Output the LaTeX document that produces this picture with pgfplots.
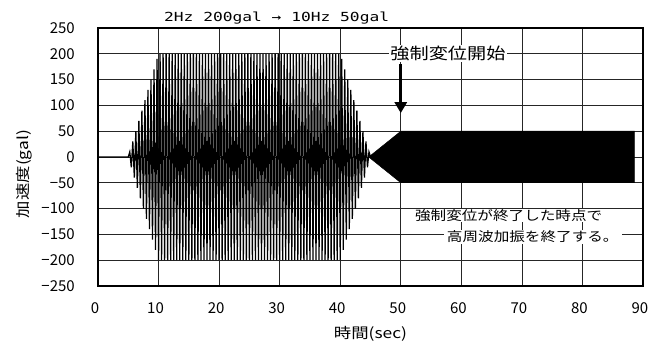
\documentclass[border=0pt]{standalone}
\usepackage{fontspec}
\setmainfont{Noto Sans CJK JP}
\newfontfamily\tickfont{Noto Sans CJK JP}
\newfontfamily\cjkwide{Noto Sans CJK JP}[FakeStretch=1.2]
\newfontfamily\titlefont{DejaVu Sans Mono}[FakeStretch=1.3]
\usepackage{pgfplots}
\pgfplotsset{compat=1.18}
\usetikzlibrary{arrows.meta}
\begin{document}
\begin{tikzpicture}
\begin{axis}[
  width=545bp, height=258bp, scale only axis,
  xmin=0, xmax=90, ymin=-250, ymax=250,
  xtick={0,10,20,30,40,50,60,70,80,90},
  xticklabels={0,10,20,30,40,50,60,70,80,90},
  ytick={-250,-200,-150,-100,-50,0,50,100,150,200,250},
  yticklabels={−250,−200,−150,−100,−50,0,50,100,150,200,250},
  major tick length=0pt,
  grid=major,
  major grid style={black!85, line width=0.6bp},
  axis line style={black, line width=1.2bp},
  tick label style={font=\tickfont\fontsize{15bp}{15bp}\selectfont},
  yticklabel style={anchor=east, inner sep=0pt, xshift=-23bp},
  xticklabel style={anchor=north, inner sep=0pt, yshift=-16bp, xshift=-3bp},
  clip=false,
]
\addplot[black, line width=1.25bp] coordinates {
(0,0)(5,0)(5.25,10)(5.5,-20)(5.75,30)(6,-40)(6.25,50)(6.5,-60)(6.75,70)(7,-80)
(7.25,90)(7.5,-100)(7.75,110)(8,-120)(8.25,130)(8.5,-140)(8.75,150)(9,-160)
(9.25,170)(9.5,-180)(9.75,190)(10,-200)
(10.25,200)(10.5,-200)(10.75,200)(11,-200)
(11.25,200)(11.5,-200)(11.75,200)(12,-200)
(12.25,200)(12.5,-200)(12.75,200)(13,-200)
(13.25,200)(13.5,-200)(13.75,200)(14,-200)
(14.25,200)(14.5,-200)(14.75,200)(15,-200)
(15.25,200)(15.5,-200)(15.75,200)(16,-200)
(16.25,200)(16.5,-200)(16.75,200)(17,-200)
(17.25,200)(17.5,-200)(17.75,200)(18,-200)
(18.25,200)(18.5,-200)(18.75,200)(19,-200)
(19.25,200)(19.5,-200)(19.75,200)(20,-200)
(20.25,200)(20.5,-200)(20.75,200)(21,-200)
(21.25,200)(21.5,-200)(21.75,200)(22,-200)
(22.25,200)(22.5,-200)(22.75,200)(23,-200)
(23.25,200)(23.5,-200)(23.75,200)(24,-200)
(24.25,200)(24.5,-200)(24.75,200)(25,-200)
(25.25,200)(25.5,-200)(25.75,200)(26,-200)
(26.25,200)(26.5,-200)(26.75,200)(27,-200)
(27.25,200)(27.5,-200)(27.75,200)(28,-200)
(28.25,200)(28.5,-200)(28.75,200)(29,-200)
(29.25,200)(29.5,-200)(29.75,200)(30,-200)
(30.25,200)(30.5,-200)(30.75,200)(31,-200)
(31.25,200)(31.5,-200)(31.75,200)(32,-200)
(32.25,200)(32.5,-200)(32.75,200)(33,-200)
(33.25,200)(33.5,-200)(33.75,200)(34,-200)
(34.25,200)(34.5,-200)(34.75,200)(35,-200)
(35.25,200)(35.5,-200)(35.75,200)(36,-200)
(36.25,200)(36.5,-200)(36.75,200)(37,-200)
(37.25,200)(37.5,-200)(37.75,200)(38,-200)
(38.25,200)(38.5,-200)(38.75,200)(39,-200)
(39.25,200)(39.5,-200)(39.75,200)(40,-200)
(40.25,190)(40.5,-180)(40.75,170)(41,-160)(41.25,150)(41.5,-140)(41.75,130)(42,-120)
(42.25,110)(42.5,-100)(42.75,90)(43,-80)(43.25,70)(43.5,-60)(43.75,50)(44,-40)
(44.25,30)(44.5,-20)(44.75,10)(45,0)
};
\addplot[black, fill=black, line width=0.4bp] coordinates {
(44.7,0)(50,50)(88.6,50)(88.6,-50)(50,-50)(44.7,0)
};
\node[font=\titlefont\fontsize{12.5bp}{12.5bp}\selectfont] at (axis cs:29.5,269) {2Hz 200gal → 10Hz 50gal};
\node[fill=white, inner xsep=1.5bp, inner ysep=1bp, anchor=west, font=\cjkwide\fontsize{16bp}{16bp}\selectfont] at (axis cs:48.0,200) {強制変位開始};
\draw[black, line width=2.8bp, -{Triangle[length=11bp, width=12bp]}] (axis cs:50,180) -- (axis cs:50,85);
\node[fill=white, inner xsep=2bp, inner ysep=0.5bp, anchor=west, font=\cjkwide\fontsize{13bp}{13bp}\selectfont] at (axis cs:52.0,-114) {強制変位が終了した時点で};
\node[fill=white, inner xsep=3bp, inner ysep=0.5bp, anchor=west, font=\cjkwide\fontsize{13bp}{13bp}\selectfont] at (axis cs:57.1,-155) {高周波加振を終了する。};
\node[font=\cjkwide\fontsize{14.5bp}{14.5bp}\selectfont] at (axis description cs:0.5,-0.184) {時間(sec)};
\node[rotate=90, font=\cjkwide\fontsize{14.5bp}{14.5bp}\selectfont] at (axis description cs:-0.1358,0.434) {加速度(gal)};
\end{axis}
\path[shift={(current axis.south west)}] (-98bp,-55bp) rectangle (563bp,286bp);
\end{tikzpicture}
\end{document}
